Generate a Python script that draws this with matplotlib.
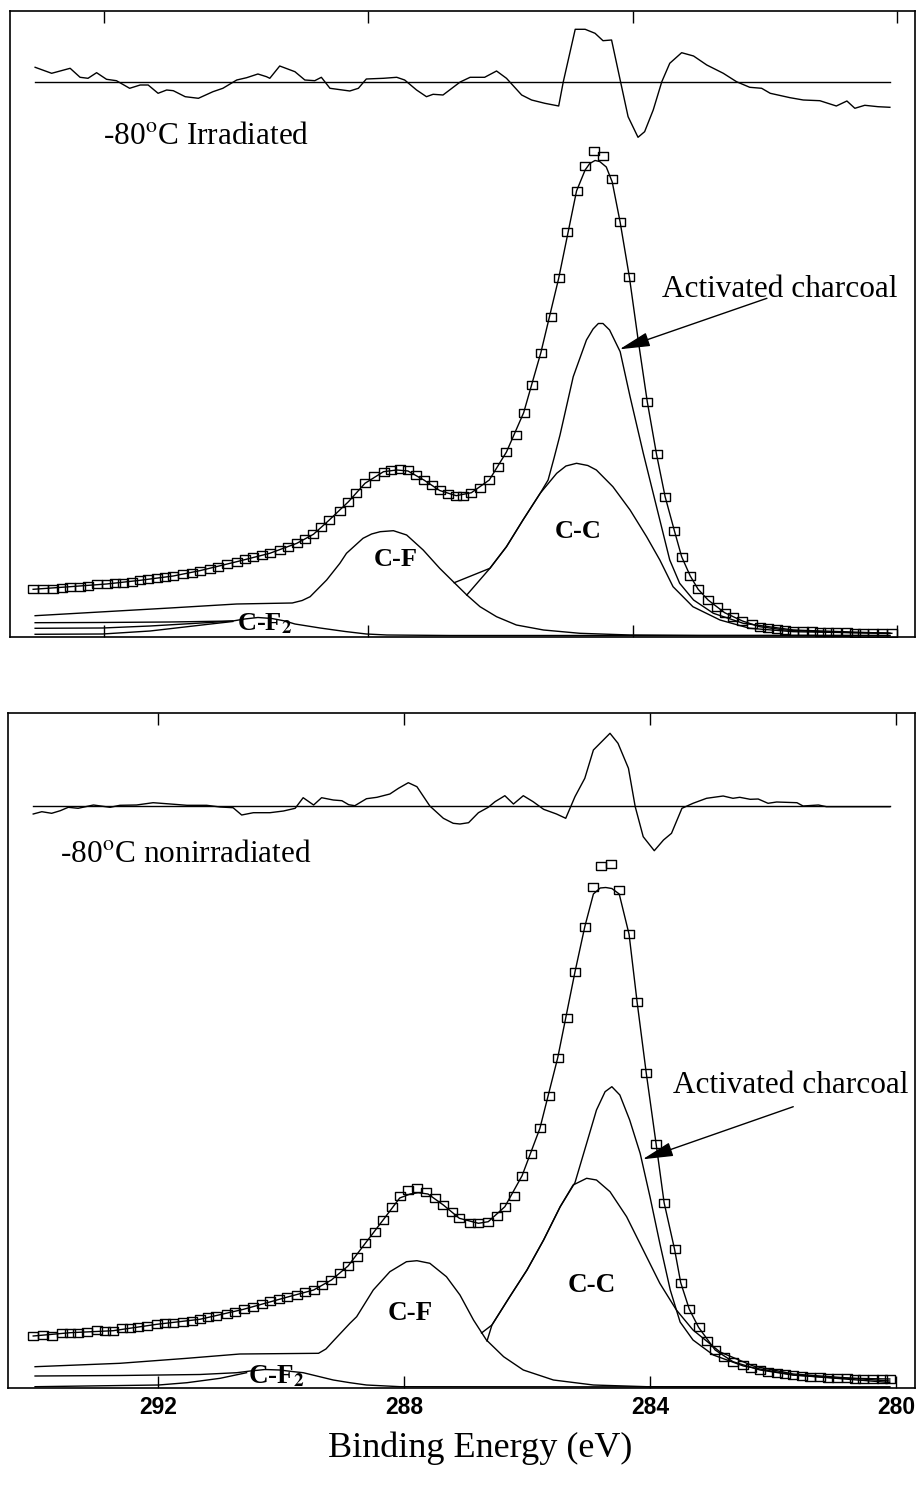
import matplotlib
matplotlib.use('Agg')
import matplotlib.pyplot as plt

plt.rcParams['font.family'] = ['Liberation Serif', 'DejaVu Serif']
plt.rcParams['mathtext.fontset'] = 'stix'

# ---------------- top panel: -80C irradiated ----------------
top_res_x = [293.04, 292.79, 292.51, 292.36, 292.24, 292.11, 291.96, 291.81, 291.61, 291.45,
             291.33, 291.18, 291.05, 290.95, 290.77, 290.57, 290.35, 290.20, 289.99, 289.84,
             289.67, 289.54, 289.49, 289.34, 289.11, 288.96, 288.81, 288.71, 288.58, 288.28,
             288.15, 288.03, 287.77, 287.57, 287.45, 287.27, 287.12, 287.02, 286.87, 286.61,
             286.46, 286.24, 286.06, 285.91, 285.68, 285.53, 285.33, 285.12, 285.05, 284.87,
             284.72, 284.57, 284.45, 284.32, 284.19, 284.07, 283.92, 283.82, 283.69, 283.56,
             283.44, 283.26, 283.08, 282.88, 282.63, 282.43, 282.23, 282.05, 281.92, 281.62,
             281.42, 281.17, 280.92, 280.76, 280.64, 280.49, 280.29, 280.11]
top_res_y = [569.7, 563.7, 568.7, 559.7, 558.7, 564.3, 557.7, 556.3, 548.7, 552,
             552, 543.7, 547, 546.3, 540.3, 538.7, 545.3, 548.7, 557, 559.3,
             563, 560.3, 558.7, 571, 565.3, 557, 556.3, 559.7, 548.7, 546,
             548.7, 558, 558.7, 559.7, 557, 547, 540.3, 542.7, 542, 555,
             559.7, 559.7, 566, 558.7, 542, 537, 533.7, 531, 555.3, 607.7,
             607.7, 603.7, 596.3, 597, 557, 520.3, 499.7, 505.3, 527, 555.3,
             573.7, 584.3, 581, 572, 563.7, 555.3, 549.7, 548.7, 543.7, 539.3,
             537, 536.3, 531, 536, 528.7, 531.7, 530.3, 529.7]
top_res_zero = 555.3

top_data_x = [293.07, 292.92, 292.77, 292.64, 292.51, 292.36, 292.24, 292.11, 291.96, 291.83,
              291.71, 291.58, 291.45, 291.33, 291.20, 291.08, 290.95, 290.80, 290.67, 290.55,
              290.40, 290.27, 290.14, 289.99, 289.87, 289.74, 289.61, 289.49, 289.34, 289.21,
              289.08, 288.96, 288.83, 288.71, 288.59, 288.43, 288.30, 288.18, 288.05, 287.92,
              287.77, 287.65, 287.52, 287.40, 287.28, 287.16, 287.04, 286.92, 286.80, 286.67,
              286.56, 286.44, 286.31, 286.17, 286.04, 285.91, 285.77, 285.65, 285.52, 285.39,
              285.24, 285.12, 284.99, 284.85, 284.72, 284.59, 284.45, 284.31, 284.19, 284.05,
              283.78, 283.64, 283.51, 283.37, 283.26, 283.13, 283.01, 282.86, 282.73, 282.61,
              282.48, 282.34, 282.20, 282.08, 281.95, 281.82, 281.70, 281.57, 281.42, 281.29,
              281.17, 281.04, 280.92, 280.76, 280.64, 280.51, 280.36, 280.23, 280.08]
top_data_y = [47.7, 47.7, 48.3, 49.3, 50.3, 50, 51.3, 52.7, 53, 53.7,
              54.3, 55, 56.7, 58, 58.7, 60, 61, 62.7, 64.3, 66.3,
              68.3, 70.3, 72.7, 75.3, 77.7, 79.7, 81.7, 83.7, 87, 90.3,
              93.7, 97.7, 102.7, 110.3, 117, 126.3, 135.3, 143.7, 153.7, 161.3,
              165.3, 167.3, 168, 166.5, 162, 157, 151.5, 146.5, 143, 141.3,
              141.3, 144.3, 148.7, 157, 170.3, 185, 202, 224.3, 252, 284.3,
              320.3, 358.7, 404.7, 446, 471.3, 486.3, 481, 458, 414.7, 359.7,
              235.3, 182.7, 140.3, 106.3, 80.3, 61, 47.7, 37, 30.3, 24.3,
              20.3, 16, 13, 10.3, 8.7, 7.7, 7, 6.3, 6, 5.7,
              5.3, 5, 4.7, 4.7, 4.3, 4.3, 4, 4, 3.7]

top_fit_x = [293.07, 292.51, 291.96, 291.45, 290.95, 290.55, 289.99, 289.49, 289.08, 288.83,
             288.59, 288.30, 288.05, 287.77, 287.57, 287.40, 287.16, 286.92, 286.67, 286.44,
             286.17, 285.91, 285.65, 285.39, 285.12, 284.85, 284.72, 284.65, 284.57, 284.50,
             284.40, 284.31, 284.19, 284.05, 283.92, 283.78, 283.64, 283.51, 283.37, 283.26,
             283.13, 283.01, 282.86, 282.61, 282.34, 282.08, 281.70, 281.17, 280.64, 280.08]
top_fit_y = [47.7, 50.3, 53, 56.7, 61, 66.3, 75.3, 83.7, 93.7, 102.7,
             117, 135.3, 153.7, 165.3, 167, 166, 157, 146.5, 141.3, 144.3,
             157, 185, 224.3, 284.3, 358.7, 446, 467, 473.5, 476.5, 475.5,
             470, 455, 414.7, 359.7, 298, 235.3, 182.7, 140.3, 106.3, 80.3,
             61, 47.7, 37, 24.3, 16, 10.3, 7, 5.3, 4.3, 3.7]

top_cf_x = [293.04, 292.06, 291.00, 289.99, 289.15, 289.00, 288.88, 288.63, 288.43, 288.33,
            288.08, 287.95, 287.82, 287.62, 287.42, 287.17, 286.92, 286.69, 286.51, 286.31,
            286.06, 285.76, 285.35, 284.80, 284.04, 282.98, 280.11]
top_cf_y = [21.3, 25, 29, 33, 34, 36.5, 40.3, 57, 73.7, 83.7,
            98.7, 103, 105.3, 106.3, 102, 87, 68.7, 53.7, 42, 30.3,
            20.3, 12, 7, 3.7, 2, 1.5, 1.5]

top_cc_x = [286.70, 286.16, 285.91, 285.66, 285.40, 285.15, 285.01, 284.85, 284.68, 284.55,
            284.30, 284.04, 283.79, 283.59, 283.39, 283.09, 282.68, 282.23, 281.57, 280.11]
top_cc_y = [54.3, 68.7, 90.3, 117, 143.7, 163.7, 171, 173.7, 171.5, 167,
            150.3, 127, 100.3, 77, 50.3, 30.3, 17, 8.7, 5.3, 3.7]

top_ac_x = [286.51, 286.16, 285.91, 285.66, 285.40, 285.28, 285.19, 285.10, 284.90, 284.70,
            284.60, 284.52, 284.45, 284.35, 284.19, 284.04, 283.84, 283.64, 283.44, 283.29,
            283.08, 282.78, 282.33, 281.57, 280.11]
top_ac_y = [42, 68.7, 90.3, 117, 143.7, 157, 179, 202, 260.3, 297,
            308, 313.5, 313.5, 307, 285.3, 240.3, 183.7, 130.3, 77, 53.7,
            37, 23.7, 13.7, 7, 3.7]

top_cf2_x = [293.04, 292.06, 291.00, 290.05, 289.87, 289.67, 289.46, 289.26, 289.11, 288.73,
             288.35, 288.03, 287.72, 286.77, 280.11]
top_cf2_y = [14.3, 14.5, 15, 16, 18, 19.5, 18.5, 16, 13, 9,
             5.5, 3, 2, 1.5, 1.5]

top_bg1_x = [293.04, 292.02, 291.30, 290.45, 290.05]
top_bg1_y = [8.7, 9, 11, 14.3, 16]
top_bg2_x = [293.04, 292.02, 291.30, 290.45, 290.05]
top_bg2_y = [2.7, 3, 6, 12.5, 15.5]

# ---------------- bottom panel: -80C nonirradiated ----------------
bot_res_x = [294.03, 293.89, 293.73, 293.59, 293.46, 293.30, 293.05, 292.78, 292.62, 292.35,
             292.08, 291.80, 291.53, 291.21, 290.99, 290.78, 290.64, 290.45, 290.18, 289.96,
             289.77, 289.64, 289.47, 289.34, 289.15, 289.01, 288.90, 288.80, 288.61, 288.44,
             288.23, 288.09, 287.93, 287.79, 287.58, 287.36, 287.20, 287.09, 286.95, 286.79,
             286.63, 286.52, 286.36, 286.22, 286.06, 285.90, 285.73, 285.52, 285.37, 285.22,
             285.06, 284.92, 284.65, 284.52, 284.35, 284.24, 284.11, 283.93, 283.78, 283.65,
             283.48, 283.30, 283.08, 282.81, 282.65, 282.54, 282.37, 282.24, 282.08, 281.94,
             281.61, 281.51, 281.26, 281.13, 280.10]
bot_res_y = [574, 576.3, 574.7, 577.3, 580.7, 579.7, 583, 580.7, 582.7, 583,
             585.3, 584, 582.7, 582.7, 581, 580.3, 573, 575.3, 575.3, 577,
             579.7, 590.3, 583, 590.3, 588, 587.3, 583.3, 582.3, 589.3, 590.7,
             594, 599.7, 605.3, 601.3, 582, 569.7, 564.7, 564, 565.3, 575.3,
             580.7, 586.3, 592.3, 584, 592.3, 586.3, 578.7, 574, 569.7, 591.3,
             609.7, 638, 654.7, 644.7, 619.7, 581.3, 551.3, 537.3, 548, 554.7,
             579.7, 584.7, 589.7, 592, 589.7, 590.7, 588.7, 589, 584.7, 586,
             585.3, 582, 583, 581.3, 581.3]
bot_res_zero = 582

bot_data_x = [294.03, 293.87, 293.73, 293.57, 293.43, 293.30, 293.16, 293.00, 292.86, 292.73,
              292.59, 292.46, 292.32, 292.18, 292.02, 291.89, 291.75, 291.59, 291.45, 291.32,
              291.18, 291.05, 290.88, 290.75, 290.61, 290.45, 290.31, 290.18, 290.04, 289.91,
              289.74, 289.61, 289.47, 289.34, 289.18, 289.04, 288.91, 288.77, 288.63, 288.47,
              288.34, 288.20, 288.07, 287.93, 287.79, 287.64, 287.50, 287.36, 287.22, 287.10,
              286.93, 286.79, 286.63, 286.49, 286.36, 286.21, 286.08, 285.93, 285.79, 285.64,
              285.50, 285.35, 285.22, 285.06, 284.92, 284.79, 284.64, 284.50, 284.34, 284.21,
              284.06, 283.90, 283.77, 283.60, 283.50, 283.36, 283.21, 283.08, 282.94, 282.80,
              282.65, 282.49, 282.35, 282.21, 282.08, 281.94, 281.81, 281.67, 281.53, 281.40,
              281.24, 281.10, 280.96, 280.80, 280.67, 280.53, 280.37, 280.23, 280.10]
bot_data_y = [52, 53, 52, 54.7, 55.3, 55.3, 56.3, 58, 57.3, 57.3,
              59.7, 60.3, 61.3, 62, 63.7, 64.7, 64.7, 66.3, 67.3, 68.7,
              70.7, 72, 74, 76.3, 78.7, 81.3, 84, 87.3, 88.7, 90.7,
              93, 96.3, 98, 103, 108, 114.7, 122, 131.3, 144.7, 156.3,
              168, 181.3, 192, 198, 200.3, 196.3, 189.7, 183, 176.3, 169.7,
              164.7, 164.7, 166.3, 172, 181.3, 192.3, 212.3, 234, 259.7, 292.3,
              330.3, 369.7, 416, 461.3, 500.7, 522, 524, 498, 453.7, 386.3,
              314.7, 244, 185.3, 138.7, 105.3, 78.7, 60.7, 47.3, 38, 31.3,
              26.3, 23, 19.7, 18, 16.3, 15.3, 14, 13, 12.3, 11.3,
              10.7, 10.3, 10, 9.7, 9.3, 9, 9, 9, 9]

bot_fit_x = [294.03, 293.43, 292.73, 292.02, 291.32, 290.61, 289.91, 289.47, 289.18, 288.91,
             288.63, 288.34, 288.07, 287.90, 287.77, 287.61, 287.36, 287.10, 286.79, 286.63,
             286.36, 286.08, 285.79, 285.50, 285.22, 285.06, 284.92, 284.81, 284.72, 284.62,
             284.50, 284.34, 284.21, 284.06, 283.90, 283.77, 283.60, 283.50, 283.36, 283.21,
             282.94, 282.65, 282.21, 281.67, 280.96, 280.10]
bot_fit_y = [52, 55.3, 57.3, 63.7, 68.7, 78.7, 90.7, 98, 108, 122,
             144.7, 168, 190, 194, 195.3, 194, 183, 169.7, 164.7, 166.3,
             181.3, 212.3, 259.7, 330.3, 416, 461.3, 494, 500, 500.5, 499.5,
             494, 453.7, 386.3, 314.7, 244, 185.3, 138.7, 105.3, 78.7, 60.7,
             38, 26.3, 18, 13, 10, 9]

bot_cf_x = [294.00, 292.62, 291.53, 290.67, 289.39, 289.27, 289.15, 288.88, 288.77, 288.50,
            288.23, 287.96, 287.79, 287.58, 287.31, 287.09, 286.87, 286.66, 286.38, 286.06,
            285.57, 284.92, 284.05, 280.10]
bot_cf_y = [21.3, 24.7, 29.7, 34, 34.7, 39, 47, 64.7, 71.3, 98,
            116.3, 126.3, 127.3, 124.7, 111.3, 93, 68, 48, 31.3, 18,
            8, 3, 1.3, 1]

bot_cc_x = [286.74, 286.57, 286.28, 286.00, 285.73, 285.46, 285.25, 285.03, 284.87, 284.65,
            284.38, 284.11, 283.84, 283.57, 283.30, 282.86, 282.32, 281.67, 280.10]
bot_cc_y = [55, 63, 91.3, 118, 148, 181.3, 203, 209.7, 208, 196.3,
            171.3, 138, 104.7, 78, 58, 36, 22, 14, 7]

bot_ac_x = [286.65, 286.57, 286.28, 286.00, 285.73, 285.46, 285.22, 285.03, 284.87, 284.73,
            284.62, 284.49, 284.33, 284.16, 284.00, 283.84, 283.67, 283.51, 283.30, 282.97,
            282.48, 281.67, 280.10]
bot_ac_y = [47, 63, 91.3, 118, 148, 181.3, 205.3, 244.7, 278, 296.3,
            301.3, 293, 268, 234.7, 191.3, 144.7, 98, 66, 48, 33,
            22, 13, 5.5]

bot_cf2_x = [294.00, 292.62, 291.32, 290.72, 290.50, 290.26, 290.02, 289.82, 289.64, 289.15,
             288.88, 288.61, 288.06, 280.10]
bot_cf2_y = [12, 12.5, 13.5, 15.3, 17, 18.5, 18, 16.5, 15.3, 8,
             5.3, 3, 1.3, 1]

bot_bg_x = [294.00, 291.99, 291.53, 290.99, 290.56]
bot_bg_y = [1.3, 3, 5.3, 9.7, 15.3]

ticks = [292, 288, 284, 280]

rect = [(-1.4, -1), (1.4, -1), (1.4, 1), (-1.4, 1), (-1.4, -1)]
lw = 1.0

fig = plt.figure(figsize=(9.19, 14.98), dpi=100)
ax1 = fig.add_axes([0.01088, 0.57477, 0.98477, 0.41789])
ax2 = fig.add_axes([0.00871, 0.07343, 0.98694, 0.45060])


def draw_panel(ax, res_x, res_y, zero, data_x, data_y, fit_x, fit_y, comps):
    ax.plot([res_x[0], res_x[-1]], [zero, zero], color='black', lw=lw)
    ax.plot(res_x, res_y, color='black', lw=lw)
    for cx, cy in comps:
        ax.plot(cx, cy, color='black', lw=lw)
    ax.plot(fit_x, fit_y, color='black', lw=lw)
    ax.plot(data_x, data_y, linestyle='none', marker=rect, markersize=7.6,
            mfc='none', mec='black', mew=1.0)
    ax.set_xticks(ticks)
    ax.set_yticks([])
    ax.tick_params(axis='x', direction='in', length=8.5, width=1.0,
                   top=True, bottom=True)
    for sp in ax.spines.values():
        sp.set_linewidth(1.2)


draw_panel(ax1, top_res_x, top_res_y, top_res_zero, top_data_x, top_data_y,
           top_fit_x, top_fit_y,
           [(top_cf_x, top_cf_y), (top_cc_x, top_cc_y), (top_ac_x, top_ac_y),
            (top_cf2_x, top_cf2_y), (top_bg1_x, top_bg1_y), (top_bg2_x, top_bg2_y)])
ax1.set_xlim(293.42, 279.73)
ax1.set_ylim(0, 626)
ax1.tick_params(axis='x', labelbottom=False)

draw_panel(ax2, bot_res_x, bot_res_y, bot_res_zero, bot_data_x, bot_data_y,
           bot_fit_x, bot_fit_y,
           [(bot_cf_x, bot_cf_y), (bot_cc_x, bot_cc_y), (bot_ac_x, bot_ac_y),
            (bot_cf2_x, bot_cf2_y), (bot_bg_x, bot_bg_y)])
ax2.set_xlim(294.44, 279.69)
ax2.set_ylim(0, 675)
ax2.tick_params(axis='x', pad=6)
for lab in ax2.get_xticklabels():
    lab.set_family(['Liberation Sans', 'DejaVu Sans'])
    lab.set_fontweight('bold')
    lab.set_fontsize(16.5)

# panel texts
ax1.text(292.01, 493, '-80$^{\\rm o}$C Irradiated', fontsize=22.5, va='baseline', ha='left')
ax2.text(293.60, 526.3, '-80$^{\\rm o}$C nonirradiated', fontsize=22.5, va='baseline', ha='left')

ax1.text(283.56, 340.3, 'Activated charcoal', fontsize=22.5, va='baseline', ha='left')
ax2.text(283.62, 294.7, 'Activated charcoal', fontsize=22.5, va='baseline', ha='left')

arrow = dict(arrowstyle='-|>,head_length=0.95,head_width=0.22', mutation_scale=20,
             color='black', lw=1.0, shrinkA=0, shrinkB=0)
ax1.annotate('', xy=(284.20, 287.7), xytext=(281.97, 338.7), arrowprops=arrow)
ax2.annotate('', xy=(284.12, 228.7), xytext=(281.67, 281.3), arrowprops=arrow)

ax1.text(287.59, 77, 'C-F', fontsize=19, fontweight='bold', ha='center', va='center')
ax1.text(284.82, 105.3, 'C-C', fontsize=19, fontweight='bold', ha='center', va='center')
ax1.text(289.99, 7, 'C-F$_\\mathbf{2}$', fontsize=19, fontweight='bold', ha='left', va='baseline')

ax2.text(287.90, 75, 'C-F', fontsize=19.5, fontweight='bold', ha='center', va='center')
ax2.text(284.95, 103, 'C-C', fontsize=19.5, fontweight='bold', ha='center', va='center')
ax2.text(290.53, 4.5, 'C-F$_\\mathbf{2}$', fontsize=19.5, fontweight='bold', ha='left', va='baseline')

fig.text(480 / 919, 1 - 1457 / 1498, 'Binding Energy (eV)', fontsize=26,
         ha='center', va='baseline')

fig.savefig('out.png', dpi=100)
